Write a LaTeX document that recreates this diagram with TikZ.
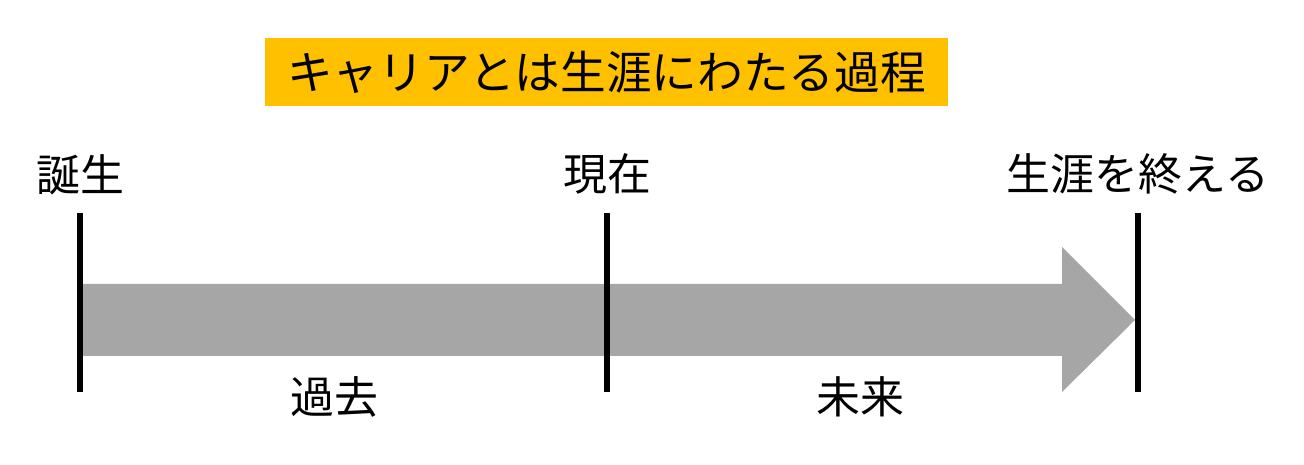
\documentclass[tikz,border=0pt]{standalone}
\usepackage{fontspec}
\setmainfont{Noto Sans CJK JP}
\usepackage{tikz}
\usetikzlibrary{positioning}
\usepackage{xcolor}
\definecolor{titleorange}{HTML}{FFC000}
\definecolor{shaftgray}{HTML}{A6A6A6}

\begin{document}
\begin{tikzpicture}[
    x = 0.02cm,
    y = -0.02cm,
    tick/.style={line width=0.12cm, black},
    stagelabel/.style={inner sep=0pt, font=\fontsize{25}{30}\selectfont},
    titlebox/.style={fill=titleorange, inner sep=0pt, minimum width=13.66cm,
        minimum height=1.36cm, font=\fontsize{26}{31}\selectfont}
]
    \useasboundingbox (0,0) rectangle (1304,465);

    \node[titlebox] (title) at (606.5,72) {キャリアとは生涯にわたる過程};

    % timeline marks
    \coordinate (birthtop) at (80,213);
    \coordinate (birthbot) at (80,392);
    \coordinate (nowtop) at (607,213);
    \coordinate (nowbot) at (607,392);
    \coordinate (endtop) at (1138,213);
    \coordinate (endbot) at (1138,392);

    % big arrow
    \fill[shaftgray] (80,284) -- (1062,284) -- (1062,247) -- (1135,320)
        -- (1062,392) -- (1062,356) -- (80,356) -- cycle;

    \draw[tick] (birthtop) -- (birthbot);
    \draw[tick] (nowtop) -- (nowbot);
    \draw[tick] (endtop) -- (endbot);

    \node[stagelabel, above=0.36cm of birthtop] (birth) {誕生};
    \node[stagelabel, above=0.36cm of nowtop] (now) {現在};
    \node[stagelabel, above=0.36cm of endtop] (end) {生涯を終える};
    \node[stagelabel] (past) at (334,397) {過去};
    \node[stagelabel] (future) at (860,397) {未来};
\end{tikzpicture}
\end{document}
